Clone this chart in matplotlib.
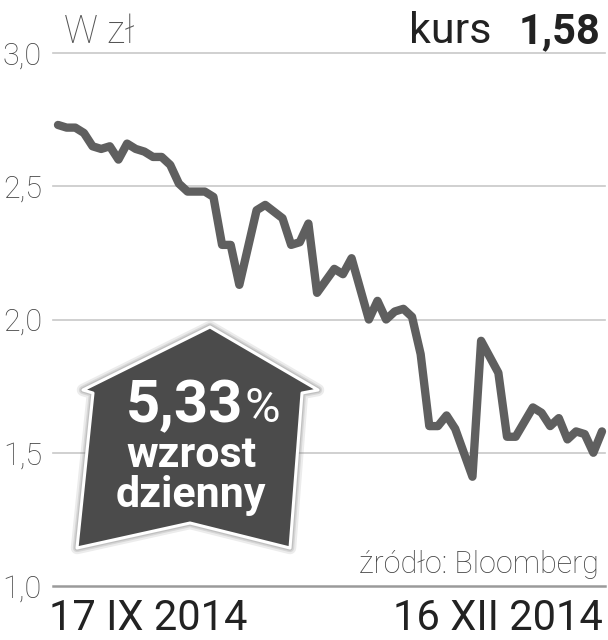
import matplotlib.pyplot as plt
from matplotlib.patches import Polygon

# trading-day index (from 17 IX 2014) and closing price in zł
dni = [0, 1, 2, 3, 4, 5, 6, 7, 8, 9, 10, 11, 12, 13, 14, 15, 17, 18, 19, 20,
       21, 23, 24, 26, 27, 28, 29, 30, 32, 33, 34, 36, 37, 38, 39, 40, 41, 42,
       43, 44, 45, 46, 48, 49, 51, 52, 53, 55, 56, 57, 58, 59, 60, 61, 62, 63]
kurs = [2.73, 2.72, 2.72, 2.70, 2.65, 2.64, 2.65, 2.60, 2.66, 2.64, 2.63, 2.61,
        2.61, 2.58, 2.51, 2.48, 2.48, 2.46, 2.28, 2.28, 2.13, 2.41, 2.43, 2.38,
        2.28, 2.29, 2.36, 2.10, 2.19, 2.17, 2.23, 2.00, 2.07, 2.00, 2.03, 2.04,
        2.01, 1.87, 1.60, 1.60, 1.64, 1.59, 1.41, 1.92, 1.80, 1.56, 1.56, 1.67,
        1.65, 1.60, 1.63, 1.55, 1.58, 1.57, 1.50, 1.58]
y_ticks = [1.0, 1.5, 2.0, 2.5, 3.0]
y_labels = ['1,0', '1,5', '2,0', '2,5', '3,0']

W, H = 608, 640
FONT = ['Roboto', 'DejaVu Sans']
plt.rcParams['font.family'] = FONT


def px(x, y):
    return (x / W, 1 - y / H)


fig = plt.figure(figsize=(W / 100, H / 100), dpi=100)
ax = fig.add_axes([53 / W, 1 - 586 / H, (605 - 53) / W, (586 - 53) / H])

ax.set_xlim(-0.58, 63.35)
ax.set_ylim(1.0, 3.0)
for s in ax.spines.values():
    s.set_visible(False)
ax.set_xticks([])
ax.set_yticks(y_ticks)
ax.set_yticklabels(y_labels, fontsize=22, color='#444444', fontweight='light')
ax.tick_params(axis='y', length=0, pad=8)
for v in y_ticks[1:]:
    ax.axhline(v, color='#c8c8c8', lw=1.2, zorder=1, clip_on=False)
ax.axhline(1.0, color='#9a9a9a', lw=1.8, zorder=1, clip_on=False)

ax.plot(dni, kurs, color='#5f5f5f', lw=6, solid_joinstyle='round',
        solid_capstyle='round', zorder=3, clip_on=False)

# arrow badge
pts = [px(210, 327), px(318, 390), px(302, 393), px(290, 548),
       px(190, 523), px(77, 548), px(93, 393), px(83, 390)]
for lw, a in [(9, 0.15), (6, 0.2), (4, 0.25)]:
    ax.add_patch(Polygon(pts, closed=True, transform=fig.transFigure,
                         facecolor='none', edgecolor='#808080', lw=lw,
                         alpha=a, joinstyle='round', zorder=4, clip_on=False))
ax.add_patch(Polygon(pts, closed=True, transform=fig.transFigure,
                     facecolor='#4b4b4b', edgecolor='white', lw=2.2,
                     joinstyle='round', zorder=5, clip_on=False))

fig.text(*px(243, 422), '5,33', ha='right', va='baseline', fontsize=43,
         fontweight='bold', color='white', zorder=6)
fig.text(*px(244, 422), '%', ha='left', va='baseline', fontsize=35,
         color='white', zorder=6)
fig.text(*px(192, 467), 'wzrost', ha='center', va='baseline', fontsize=31,
         fontweight='bold', color='white', zorder=6)
fig.text(*px(191, 507), 'dzienny', ha='center', va='baseline', fontsize=31,
         fontweight='bold', color='white', zorder=6)

# header and footer texts
fig.text(*px(64, 43), 'W zł', ha='left', va='baseline', fontsize=27,
         fontweight='light', color='#555555')
fig.text(*px(492, 43), 'kurs', ha='right', va='baseline', fontsize=31,
         color='#222222')
fig.text(*px(601, 43), '1,58', ha='right', va='baseline', fontsize=30,
         fontweight='bold', color='#222222')
fig.text(*px(599, 573), 'źródło: Bloomberg', ha='right', va='baseline',
         fontsize=22, fontweight='light', color='#444444')
fig.text(*px(49, 630), '17 IX 2014', ha='left', va='baseline', fontsize=30,
         color='#222222')
fig.text(*px(603, 630), '16 XII 2014', ha='right', va='baseline', fontsize=30,
         color='#222222')

fig.savefig('out.png', dpi=100)
